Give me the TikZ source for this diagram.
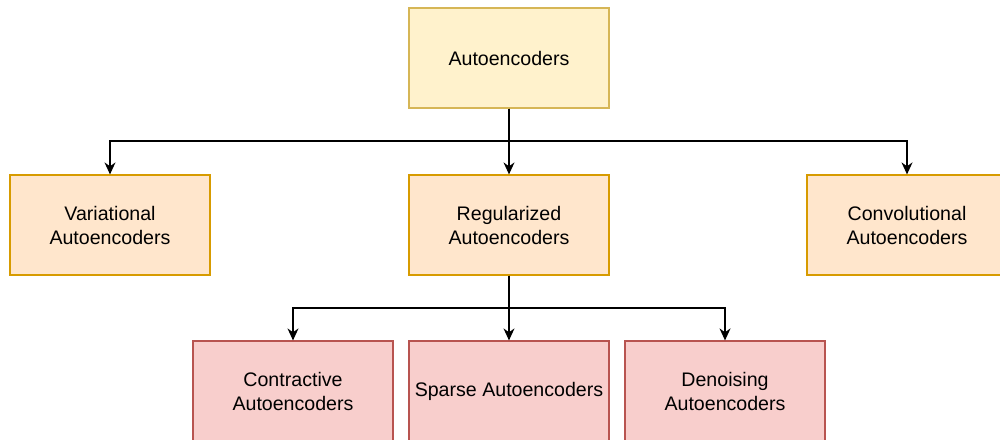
\documentclass[tikz,border=0pt]{standalone}
\usepackage{fontspec}
\setmainfont{Liberation Sans}
\usetikzlibrary{arrows.meta,positioning}
\definecolor{topfill}{HTML}{FFF2CC}
\definecolor{topline}{HTML}{D6B656}
\definecolor{midfill}{HTML}{FFE6CC}
\definecolor{midline}{HTML}{D79B00}
\definecolor{lowfill}{HTML}{F8CECC}
\definecolor{lowline}{HTML}{B85450}

\begin{document}
\begin{tikzpicture}[
    x=0.5pt, y=-0.5pt,
    box/.style={rectangle, draw, line width=0.6pt, minimum width=100pt, minimum height=50pt,
        inner sep=0, align=center, font=\fontsize{9.8}{12}\selectfont},
    topbox/.style={box, fill=topfill, draw=topline},
    midbox/.style={box, fill=midfill, draw=midline},
    lowbox/.style={box, fill=lowfill, draw=lowline},
    arr/.style={-{Stealth[length=6pt,width=5.5pt]}, line width=0.7pt, black}]
\useasboundingbox (0,0) rectangle (1000,439);
\clip (0,0) rectangle (1000,439);

% root
\node[topbox] (ae) at (509,58) {Autoencoders};

% second row
\node[midbox] (var) at (110,225) {Variational\\Autoencoders};
\node[midbox] (reg) at (509,225) {Regularized\\Autoencoders};
\node[midbox] (conv) at (907,225) {Convolutional\\Autoencoders};

% third row
\node[lowbox] (contr) at (293,391) {Contractive\\Autoencoders};
\node[lowbox] (sparse) at (509,391) {Sparse Autoencoders};
\node[lowbox] (denoise) at (725,391) {Denoising\\Autoencoders};

% split points
\coordinate (split1) at (509,141);
\coordinate (split2) at (509,308);

\draw[arr] (ae.south) -- (split1) -| (var.north);
\draw[arr] (ae.south) -- (reg.north);
\draw[arr] (ae.south) -- (split1) -| (conv.north);

\draw[arr] (reg.south) -- (split2) -| (contr.north);
\draw[arr] (reg.south) -- (sparse.north);
\draw[arr] (reg.south) -- (split2) -| (denoise.north);

\end{tikzpicture}
\end{document}
